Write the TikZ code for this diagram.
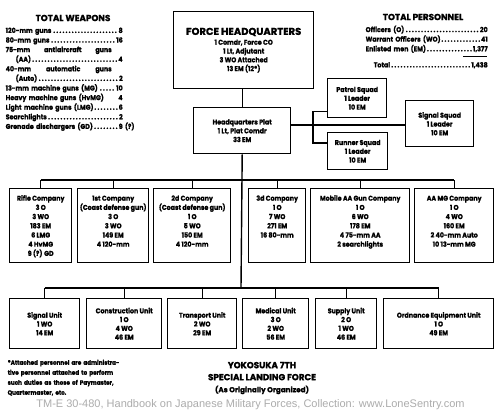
\documentclass[tikz,border=0pt]{standalone}
\usepackage{fontspec}
\setmainfont{Poppins}[FakeStretch=0.9,BoldFeatures={FakeBold=1.2}]
\newfontfamily\headfont{Poppins}[BoldFeatures={FakeBold=1.2}]
\newfontfamily\footerfont{Liberation Sans}
\definecolor{footergray}{RGB}{172,172,172}
\begin{document}
\begin{tikzpicture}[x=1pt,y=-1pt,line width=1.4pt,
        orgbox/.style={draw,anchor=north west,inner sep=0pt,align=center,
            font=\fontsize{7}{8.8}\selectfont\bfseries},
        cobox/.style 2 args={orgbox,minimum height=0pt,text height=#1,text depth=#2,
            font=\fontsize{7}{9.2}\selectfont\bfseries},
        listtext/.style={anchor=north west,inner sep=0pt,align=left,
            font=\fontsize{7}{9.6}\selectfont\bfseries},
        headtext/.style={inner sep=0pt,font=\headfont\fontsize{8.8}{11}\selectfont\bfseries}]
                \useasboundingbox[fill=white] (0,0) rectangle (500,415);

                % headquarters and squads
                \node[orgbox,minimum width=140pt,minimum height=77pt] (ForceHQ) at (173,11)
                    {{\headfont\fontsize{10}{11}\selectfont FORCE HEADQUARTERS}\\[1pt] 1 Comdr, Force CO\\ 1 Lt, Adjutant\\ 3 WO Attached\\ 13 EM (12*)};
                \node[orgbox,minimum width=97pt,minimum height=46pt] (HQPlat) at (193,107)
                    {Headquarters Plat\\ 1 Lt, Plat Comdr\\ 33 EM};
                \node[orgbox,minimum width=59pt,minimum height=39pt] (PatrolSq) at (327,78)
                    {Patrol Squad\\ 1 Leader\\ 10 EM};
                \node[orgbox,minimum width=60pt,minimum height=37pt] (RunnerSq) at (327,132)
                    {Runner Squad\\ 1 Leader\\ 10 EM};
                \node[orgbox,minimum width=68pt,minimum height=46pt] (SignalSq) at (405,100)
                    {Signal Squad\\ 1 Leader\\ 10 EM};

                % companies (text hung from the top line)
                \node[cobox={67.2pt}{6.8pt},minimum width=62pt] (RifleCo) at (9,188)
                    {Rifle Company\\ 3 O\\ 3 WO\\ 183 EM\\ 6 LMG\\ 4 HvMG\\ 9 (?) GD};
                \node[cobox={58pt}{16pt},minimum width=71pt] (FirstCo) at (77,188)
                    {1st Company\\ (Coast defense gun)\\ 3 O\\ 3 WO\\ 149 EM\\ 4 120-mm};
                \node[cobox={58pt}{16pt},minimum width=77pt] (SecondCo) at (153,188)
                    {2d Company\\ (Coast defense gun)\\ 1 O\\ 5 WO\\ 150 EM\\ 4 120-mm};
                \node[cobox={48.8pt}{25.2pt},minimum width=57pt] (ThirdCo) at (248,188)
                    {3d Company\\ 1 O\\ 7 WO\\ 271 EM\\ 16 80-mm};
                \node[cobox={58pt}{16pt},minimum width=99pt] (MobileAACo) at (310,188)
                    {Mobile AA Gun Company\\ 1 O\\ 6 WO\\ 178 EM\\ 4 75-mm AA\\ 2 searchlights};
                \node[cobox={58pt}{16pt},minimum width=79pt] (AAMGCo) at (414,188)
                    {AA MG Company\\ 1 O\\ 4 WO\\ 160 EM\\ 2 40-mm Auto\\ 10 13-mm MG};

                % units
                \node[orgbox,minimum width=70pt,minimum height=50pt] (SignalUnit) at (9,298)
                    {Signal Unit\\ 1 WO\\ 14 EM};
                \node[orgbox,minimum width=75pt,minimum height=50pt] (ConstrUnit) at (86,298)
                    {Construction Unit\\ 1 O\\ 4 WO\\ 46 EM};
                \node[orgbox,minimum width=69pt,minimum height=50pt] (TransportUnit) at (167,298)
                    {Transport Unit\\ 2 WO\\ 29 EM};
                \node[orgbox,minimum width=66pt,minimum height=50pt] (MedicalUnit) at (242,298)
                    {Medical Unit\\ 3 O\\ 2 WO\\ 56 EM};
                \node[orgbox,minimum width=61pt,minimum height=50pt] (SupplyUnit) at (315,298)
                    {Supply Unit\\ 2 O\\ 1 WO\\ 46 EM};
                \node[orgbox,minimum width=110pt,minimum height=50pt] (OrdnanceUnit) at (383,298)
                    {Ordnance Equipment Unit\\ 1 O\\ 49 EM};

                % connectors
                \coordinate (CoBar) at (241,180);
                \coordinate (UnitBar) at (241,288);
                \coordinate (SqSpine) at (313,125);
                \draw (ForceHQ.south -| HQPlat.north) -- (HQPlat.north);
                \draw (HQPlat.south) -- (UnitBar);
                \draw (HQPlat.east |- SqSpine) -- (SignalSq.west |- SqSpine);
                \draw ([yshift=7pt]PatrolSq.south west) -| (SqSpine) |- ([yshift=-11pt]RunnerSq.north west);
                \draw (RifleCo.north |- CoBar) -- (AAMGCo.north |- CoBar);
                \foreach \co in {RifleCo,FirstCo,SecondCo,ThirdCo,MobileAACo,AAMGCo}
                    \draw (\co.north |- CoBar) -- (\co.north);
                \draw (SignalUnit.north |- UnitBar) -- (OrdnanceUnit.north |- UnitBar);
                \foreach \un in {SignalUnit,ConstrUnit,TransportUnit,MedicalUnit,SupplyUnit,OrdnanceUnit}
                    \draw (\un.north |- UnitBar) -- (\un.north);

                % totals
                \node[headtext] (WeaponsHead) at (73,18) {TOTAL WEAPONS};
                \node[listtext,text width=117pt] (WeaponsList) at (5,27)
                    {120-mm guns\dotfill 8\\
                     80-mm guns\dotfill 16\\
                     75-mm\hfill antiaircraft\hfill guns\rule{11pt}{0pt}\\
                     \hspace*{10pt}(AA)\dotfill 4\\
                     40-mm\hfill automatic\hfill guns\rule{11pt}{0pt}\\
                     \hspace*{10pt}(Auto)\dotfill 2\\
                     13-mm machine guns (MG)\dotfill 10\\
                     Heavy machine guns (HvMG)\hfill 4\\
                     Light machine guns (LMG)\dotfill 6\\
                     Searchlights\dotfill 2\\
                     Grenade dischargers (GD)\dotfill 9\rlap{ (?)}};
                \node[headtext] (PersonnelHead) at (423,17) {TOTAL PERSONNEL};
                \node[listtext,text width=122pt] (PersonnelList) at (365,25)
                    {Officers (O)\dotfill 20\\
                     Warrant Officers (WO)\dotfill 41\\
                     Enlisted men (EM)\dotfill 1,377\\[6.5pt]
                     \hspace*{8pt}Total\dotfill 1,438};
                \draw[line width=0.8pt] (463,56) -- (487,56);

                % notes and title
                \node[listtext,text width=105pt,font=\fontsize{6.3}{10}\selectfont\bfseries] (AttachedNote) at (7,359)
                    {\makebox[\linewidth][s]{*Attached personnel are administra-}\\
                     \makebox[\linewidth][s]{tive personnel attached to perform}\\
                     \makebox[\linewidth][s]{such duties as those of Paymaster,}\\
                     Quartermaster, etc.};
                \node[inner sep=0pt,align=center,font=\headfont\fontsize{8.8}{12}\selectfont\bfseries] (ForceTitle) at (262,378)
                    {YOKOSUKA 7TH\\ SPECIAL LANDING FORCE\\ {\fontsize{7.2}{12}\selectfont (As Originally Organized)}};
                \node[inner sep=0pt,text=footergray,font=\footerfont\fontsize{11}{13}\selectfont] (SourceLine) at (250.5,405)
                    {TM-E 30-480, Handbook on Japanese Military Forces, Collection: www.LoneSentry.com};
            \end{tikzpicture}
\end{document}
